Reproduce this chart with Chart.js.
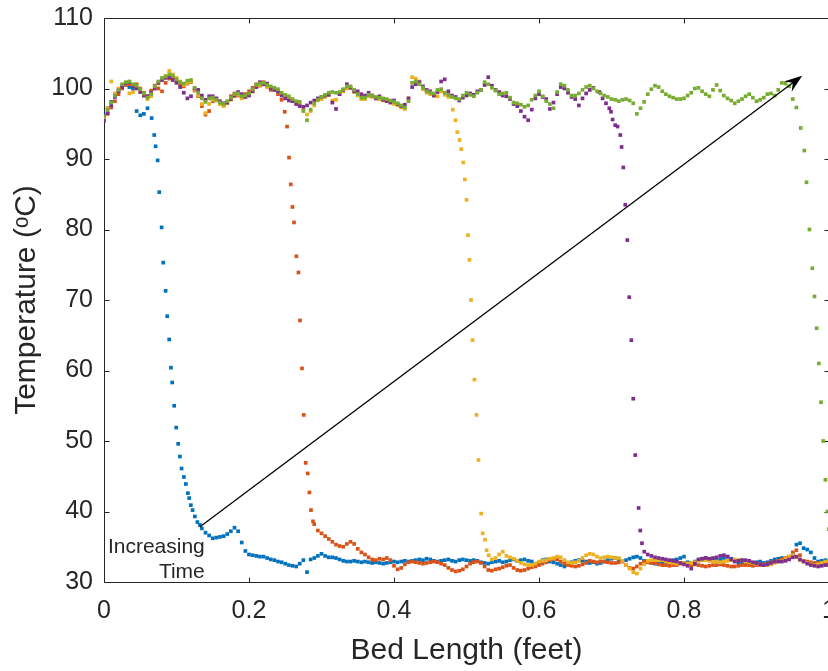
<!DOCTYPE html>
<html>
<head>
<meta charset="utf-8">
<script src="https://cdn.jsdelivr.net/npm/chart.js@4.4.1/dist/chart.umd.min.js"></script>
<style>
  html, body { margin: 0; padding: 0; background: #fff; overflow: hidden; }
  #wrap { position: relative; width: 880px; height: 671px; }
</style>
</head>
<body>
<div id="wrap"><canvas id="mycanvas"></canvas></div>
<script>
// tick positions
const xTickVals = [0, 0.2, 0.4, 0.6, 0.8, 1];
const yTickVals = [30, 40, 50, 60, 70, 80, 90, 100, 110];

// readings are on a 0.005 ft grid, the steep fronts are listed point by point
const gridStep = 0.005;

// blue - first profile
const blueHot = [96.2, 97.2, 98.1, 99.0, 99.6, 100.4, 100.5, 100.2, 99.9, 96.8, 96.2, 96.4, 97.2];
const blueDrop = [[0.0657, 95.8], [0.0693, 93.4], [0.0712, 91.8], [0.0740, 89.8], [0.0762, 85.3], [0.0795, 80.3],
  [0.0817, 75.3], [0.0850, 71.3], [0.0872, 67.7], [0.0899, 64.4], [0.0923, 60.4], [0.0941, 58.3], [0.0968, 55.0],
  [0.0996, 51.9], [0.1023, 49.6], [0.1047, 47.8], [0.1070, 46.1], [0.1102, 44.9], [0.1129, 43.9], [0.1157, 42.6],
  [0.1175, 41.9], [0.1198, 40.9], [0.1222, 40.2], [0.1253, 39.3], [0.1288, 38.5], [0.1322, 38.1]];
const blueColdStart = 0.135;
const blueCold = [37.6, 37.0, 36.6, 36.2, 36.3, 36.4, 36.5, 36.8, 37.2, 37.7,
  37.2, 35.6, 34.4, 33.9, 33.8, 33.7, 33.6, 33.6, 33.4, 33.2,
  33.1, 32.9, 32.8, 32.6, 32.4, 32.3, 32.2, 32.6, 33.1, 31.4,
  33.2, 33.4, 33.7, 34.0, 33.7, 33.5, 33.5, 33.4, 33.2, 33.0,
  32.9, 32.9, 33.0, 32.9, 32.8, 32.9, 32.8, 32.7, 32.8, 32.7,
  32.6, 32.7, 32.8, 32.9, 32.8, 32.9, 33.0, 32.9, 33.0, 33.1,
  33.2, 33.1, 33.3, 33.2, 33.0, 32.9, 33.0, 33.1, 33.2, 33.0,
  32.9, 33.1, 33.2, 33.1, 33.0, 33.1, 33.0, 32.8, 32.7, 32.6,
  32.8, 32.9, 33.0, 32.8, 32.9, 33.1, 33.2, 33.0, 33.1, 33.2,
  33.0, 32.9, 32.6, 32.7, 33.1, 33.2, 32.9, 32.8, 32.6, 32.4,
  32.2, 32.5, 32.8, 33.0, 33.1, 33.0, 32.9, 32.7, 32.8, 32.6,
  32.7, 32.9, 33.1, 33.3, 33.4, 33.2, 33.0, 33.1, 33.3, 33.5,
  33.6, 33.4, 33.0, 32.8, 32.7, 32.6, 32.7, 32.8, 32.7, 32.9,
  33.1, 33.2, 33.4, 33.6, 32.8, 32.7, 32.9, 33.1, 33.3, 33.4,
  33.2, 33.1, 33.0, 33.2, 33.4, 33.6, 33.3, 33.0, 32.8, 32.7,
  32.7, 32.6, 32.7, 32.8, 32.9, 32.7, 32.8, 33.0, 33.2, 33.3,
  33.4, 33.2, 33.4, 34.0, 35.3, 35.5, 34.8, 34.6, 34.2, 33.4,
  32.9, 33.0, 33.1, 33.0];

// orange - second profile
const orangeHot = [95.7, 96.4, 97.3, 98.2, 99.2, 100.0, 100.5, 100.6, 100.4, 100.6,
  100.0, 99.4, 98.9, 99.7, 100.4, 100.0, 99.6, 100.8, 101.4, 101.5,
  101.0, 100.6, 100.3, 100.7, 100.9, 99.7, 98.9, 97.5, 96.3, 96.8,
  98.2, 98.5, 97.9, 97.6, 98.0, 98.9, 99.3, 99.0, 98.7, 99.2,
  99.6, 100.1, 100.6, 100.4, 100.9, 100.3, 99.8, 99.9, 99.2, 98.4];
const orangeDrop = [[0.2493, 96.7], [0.2525, 94.6], [0.2552, 90.2], [0.2576, 86.4], [0.2599, 83.2], [0.2621, 81.0],
  [0.2654, 76.2], [0.2682, 73.9], [0.2704, 67.1], [0.2731, 60.3], [0.2755, 53.7], [0.2782, 46.9], [0.2810, 45.4],
  [0.2833, 42.7], [0.2855, 40.2], [0.2883, 38.6]];
const orangeColdStart = 0.29;
const orangeCold = [38.2, 37.3, 36.9, 36.5, 36.1, 35.7, 35.3, 35.1, 35.0, 35.4,
  35.7, 35.4, 34.7, 34.2, 33.9, 33.5, 33.2, 33.1, 33.3, 33.2,
  33.4, 33.1, 32.3, 31.8, 32.0, 32.5, 32.8, 32.9, 32.8, 32.7,
  32.6, 32.7, 32.8, 32.9, 32.8, 32.6, 32.4, 32.0, 31.7, 31.5,
  31.6, 31.8, 32.2, 32.6, 32.8, 32.9, 32.7, 32.2, 31.7, 31.6,
  31.8, 31.9, 32.1, 32.3, 32.4, 32.0, 31.7, 31.6, 31.7, 31.9,
  32.1, 32.2, 32.4, 32.6, 32.8, 33.1, 33.3, 33.2, 32.9, 32.6,
  32.4, 32.3, 32.2, 32.3, 32.5, 32.7, 33.0, 32.9, 32.8, 32.9,
  32.9, 32.8, 32.7, 32.7, 32.8, 32.9, 32.4, 32.0, 31.9, 32.2,
  32.6, 32.9, 32.8, 32.7, 32.7, 32.5, 32.4, 32.4, 32.3, 32.4,
  32.4, 32.6, 32.7, 32.6, 32.4, 32.5, 32.4, 32.3, 32.2, 32.3,
  32.4, 32.4, 32.5, 32.4, 32.3, 32.2, 32.2, 32.3, 32.4, 32.4,
  32.4, 32.3, 32.4, 32.4, 32.5, 32.6, 32.8, 32.9, 33.0, 33.2,
  33.4, 33.6, 34.2, 34.5, 33.8, 33.0, 32.9, 32.8, 32.7, 32.7,
  32.6, 32.7, 32.7];

// yellow - third profile
const yellowHot = [95.8, 97.2, 101.0, 99.3, 100.0, 100.2, 100.6, 99.3, 99.5, 100.1,
  99.6, 99.0, 98.5, 98.9, 100.0, 100.7, 101.3, 101.8, 102.5, 102.0,
  101.5, 101.0, 100.5, 100.8, 101.0, 99.8, 99.0, 97.8, 96.5, 97.8,
  98.4, 98.3, 97.8, 97.5, 97.9, 98.4, 98.9, 99.1, 98.6, 98.8,
  99.1, 99.6, 100.3, 100.5, 100.6, 100.2, 100.0, 99.8, 99.6, 99.2,
  98.8, 98.6, 98.3, 98.0, 97.7, 97.1, 96.3, 96.8, 97.6, 98.3,
  98.5, 98.8, 99.1, 98.3, 98.4, 99.2, 99.6, 100.0, 100.1, 99.5,
  99.0, 98.5, 98.5, 98.9, 98.8, 98.6, 98.5, 98.3, 98.2, 98.1,
  97.8, 97.6, 97.3, 97.1, 98.6, 101.6, 101.4, 101.0, 99.9, 99.4,
  99.2, 99.0, 98.9, 99.6, 99.1, 98.8];
const yellowDrop = [[0.4811, 97.0], [0.4848, 95.5], [0.4872, 93.8], [0.4904, 92.7], [0.4927, 91.4], [0.4955, 89.5],
  [0.4977, 87.1], [0.5000, 84.2], [0.5021, 79.2], [0.5041, 75.7], [0.5062, 70.0], [0.5083, 64.3], [0.5110, 58.7],
  [0.5138, 53.7], [0.5165, 47.3], [0.5202, 39.7], [0.5223, 36.9], [0.5256, 36.0], [0.5278, 34.5], [0.5306, 33.8]];
const yellowColdStart = 0.535;
const yellowCold = [33.2, 33.4, 33.9, 34.3, 33.7, 33.5, 33.3, 33.0, 32.7, 32.5,
  32.4, 32.4, 32.6, 32.9, 33.0, 33.1, 33.3, 33.4, 33.6, 33.5,
  33.1, 32.8, 32.7, 32.8, 33.0, 33.4, 33.8, 34.0, 33.9, 33.6,
  33.4, 33.5, 33.6, 33.5, 33.4, 33.4, 33.0, 32.4, 31.9, 31.4,
  31.2, 31.9, 32.5, 33.0, 33.1, 33.1, 33.1, 33.1, 32.9, 32.8,
  32.7, 32.6, 32.7, 32.7, 32.6, 32.7, 32.8, 33.0, 33.1, 33.1,
  33.0, 32.9, 32.9, 32.8, 32.9, 33.0, 33.1, 33.2, 33.1, 33.1,
  32.9, 32.8, 32.7, 32.6, 32.5, 32.4, 32.4, 32.5, 32.7, 32.9,
  33.0, 33.3, 33.6, 33.8, 33.5, 33.1, 32.9, 32.7, 32.5, 32.4,
  32.5, 32.7, 32.9, 33.0];

// purple - fourth profile
const purpleHot = [95.4, 96.5, 97.6, 98.8, 99.6, 100.2, 100.7, 100.9, 100.3, 100.0,
  99.5, 99.0, 98.9, 99.4, 100.0, 100.8, 101.2, 101.5, 101.6, 101.2,
  100.8, 100.2, 99.4, 98.6, 98.9, 100.0, 99.8, 99.0, 98.4, 98.9,
  98.9, 98.6, 98.2, 97.9, 98.0, 98.5, 99.0, 99.5, 99.2, 98.8,
  99.0, 99.6, 100.2, 100.9, 100.6, 100.7, 100.0, 99.8, 99.6, 99.0,
  98.6, 98.3, 98.2, 97.8, 97.5, 97.4, 97.6, 98.0, 98.3, 98.6,
  98.8, 99.0, 99.1, 98.0, 97.1, 99.2, 99.8, 100.6, 100.1, 99.6,
  99.6, 99.2, 99.0, 99.4, 99.0, 98.6, 98.9, 98.4, 98.2, 98.0,
  98.3, 97.8, 97.5, 97.7, 98.6, 100.2, 100.6, 100.9, 100.3, 99.8,
  99.6, 99.0, 99.5, 101.0, 101.3, 99.6, 99.0, 98.8, 98.3, 98.7,
  99.0, 99.3, 99.1, 99.6, 99.8, 100.5, 101.6, 100.4, 99.8, 99.5,
  99.0, 98.9, 98.5, 97.8, 97.5, 96.8, 96.0, 95.5, 97.0, 98.6,
  99.2, 98.8, 98.5, 97.1, 98.0, 99.2, 100.2, 100.0, 99.4, 98.8,
  98.5, 97.6, 98.6, 99.3, 99.8, 100.1];
const purpleDrop = [[0.6832, 99.5], [0.6877, 98.6], [0.6924, 97.9], [0.6970, 97.2], [0.6993, 96.7], [0.7015, 95.6],
  [0.7052, 94.8], [0.7084, 94.6], [0.7121, 93.4], [0.7139, 91.7], [0.7163, 88.8], [0.7190, 83.5], [0.7218, 78.5],
  [0.7245, 70.4], [0.7273, 64.3], [0.7300, 56.0], [0.7328, 48.0], [0.7374, 40.5], [0.7397, 37.3], [0.7420, 35.5],
  [0.7452, 34.3]];
const purpleColdStart = 0.75;
const purpleCold = [33.9, 33.7, 33.5, 33.4, 33.3, 33.2, 33.1, 33.0, 32.9, 32.7,
  32.5, 32.3, 31.9, 32.6, 33.2, 33.3, 33.4, 33.3, 33.4, 33.5,
  33.7, 33.8, 33.6, 33.2, 32.9, 33.0, 33.1, 33.1, 33.0, 32.8,
  32.7, 32.5, 32.4, 32.5, 32.7, 32.9, 32.9, 32.9, 33.0, 33.2,
  33.5, 33.6, 33.2, 32.9, 32.6, 32.4, 32.3, 32.2, 32.3, 32.4,
  32.4];

// green - fifth profile
const greenHot = [96.0, 97.0, 98.0, 99.0, 99.8, 100.6, 100.9, 101.0, 100.6, 100.4,
  99.9, 99.3, 98.7, 99.2, 100.3, 101.0, 101.5, 101.7, 102.0, 101.8,
  101.3, 100.9, 100.7, 101.1, 101.2, 100.1, 99.4, 98.6, 98.1, 98.6,
  98.7, 98.4, 98.0, 97.8, 98.2, 98.7, 99.2, 99.3, 98.9, 99.0,
  99.3, 99.9, 100.5, 100.7, 100.8, 100.5, 100.3, 100.1, 99.9, 99.4,
  99.1, 98.9, 98.5, 98.2, 98.1, 96.8, 95.5, 97.0, 97.9, 98.4,
  98.8, 99.1, 99.4, 99.5, 99.4, 99.5, 99.9, 100.3, 100.3, 99.8,
  99.2, 98.7, 98.7, 99.1, 99.0, 98.8, 98.7, 98.6, 98.5, 98.3,
  98.1, 97.9, 97.6, 97.3, 98.2, 100.8, 101.0, 100.6, 100.1, 99.6,
  99.4, 99.3, 99.8, 99.9, 99.4, 99.1, 98.8, 98.6, 98.5, 99.0,
  99.4, 99.1, 98.9, 99.4, 99.8, 100.9, 100.6, 100.1, 99.7, 99.2,
  99.3, 99.4, 98.7, 98.0, 97.9, 97.7, 97.4, 97.6, 98.4, 99.0,
  99.6, 98.9, 98.2, 97.8, 97.2, 99.5, 100.6, 100.4, 99.8, 99.0,
  99.0, 99.3, 99.8, 100.2, 100.4, 100.0, 99.6, 99.3, 99.0, 98.8,
  98.5, 98.4, 98.2, 98.4, 98.5, 98.3, 97.9, 96.4, 97.2, 98.1,
  99.2, 99.9, 100.4, 100.2, 99.6, 99.2, 98.9, 98.7, 98.5, 98.5,
  98.6, 99.0, 99.4, 100.0, 100.1, 99.6, 99.2, 98.9, 99.8, 100.5,
  99.7, 99.0, 98.6, 98.3, 97.9, 98.2, 98.5, 98.9, 99.2, 98.7,
  98.2, 98.4, 98.7, 99.2, 99.3, 99.0, 99.8, 100.8, 100.7, 100.3,
  98.5, 97.3];
const greenDrop = [[0.961, 94.4], [0.966, 91.2], [0.969, 86.7], [0.973, 80.0], [0.977, 74.5], [0.980, 70.5],
  [0.983, 66.0], [0.986, 61.0], [0.989, 55.5], [0.992, 50.0], [0.995, 44.5], [0.998, 40.0], [1.0, 37.5]];

// annotation
const arrowFrom = [0.132, 37.8];
const arrowTo = [0.963, 101.8];
const noteLines = ['Increasing', 'Time'];
const noteAnchor = [0.139, 30.6];

const colores = {
  blue: '#0072BD',
  orange: '#D95319',
  yellow: '#EDB120',
  purple: '#7E2F8E',
  green: '#77AC30'
};
const axisColor = '#262626';
const fontFam = '"Liberation Sans", Arial, Helvetica, sans-serif';

function onGrid(startX, temps) {
  return temps.map(function (t, i) {
    return { x: +(startX + i * gridStep).toFixed(4), y: t };
  });
}
function pairs(list) {
  return list.map(function (p) { return { x: p[0], y: p[1] }; });
}

function serie(label, color, puntos, orden) {
  return {
    label: label,
    data: puntos,
    showLine: false,
    pointStyle: 'rect',
    pointRadius: 2.6,
    pointHoverRadius: 2.6,
    pointBorderWidth: 0,
    pointBackgroundColor: color,
    pointBorderColor: color,
    order: orden
  };
}

var datasets = [
  serie('t1', colores.blue, onGrid(0, blueHot).concat(pairs(blueDrop), onGrid(blueColdStart, blueCold)), 5),
  serie('t2', colores.orange, onGrid(0, orangeHot).concat(pairs(orangeDrop), onGrid(orangeColdStart, orangeCold)), 4),
  serie('t3', colores.yellow, onGrid(0, yellowHot).concat(pairs(yellowDrop), onGrid(yellowColdStart, yellowCold)), 3),
  serie('t4', colores.purple, onGrid(0, purpleHot).concat(pairs(purpleDrop), onGrid(purpleColdStart, purpleCold)), 2),
  serie('t5', colores.green, onGrid(0, greenHot).concat(pairs(greenDrop)), 1)
];

// box with inward ticks, like the matlab axes
const boxPlugin = {
  id: 'boxPlugin',
  beforeDatasetsDraw: function (chart) {
    const ctx = chart.ctx;
    const a = chart.chartArea;
    const xs = chart.scales.x;
    const ys = chart.scales.y;
    const L = Math.round(a.left) + 0.5, R = Math.round(a.right) + 0.5;
    const T = Math.round(a.top) + 0.5, B = Math.round(a.bottom) + 0.5;
    ctx.save();
    ctx.strokeStyle = axisColor;
    ctx.lineWidth = 1;
    ctx.beginPath();
    ctx.rect(L, T, R - L, B - T);
    xTickVals.forEach(function (v) {
      const px = Math.round(xs.getPixelForValue(v)) + 0.5;
      ctx.moveTo(px, B); ctx.lineTo(px, B - 5);
      ctx.moveTo(px, T); ctx.lineTo(px, T + 5);
    });
    yTickVals.forEach(function (v) {
      const py = Math.round(ys.getPixelForValue(v)) + 0.5;
      ctx.moveTo(L, py); ctx.lineTo(L + 5, py);
      ctx.moveTo(R, py); ctx.lineTo(R - 5, py);
    });
    ctx.stroke();
    ctx.restore();
  },
  afterDatasetsDraw: function (chart) {
    const ctx = chart.ctx;
    const xs = chart.scales.x;
    const ys = chart.scales.y;
    const x0 = xs.getPixelForValue(arrowFrom[0]), y0 = ys.getPixelForValue(arrowFrom[1]);
    const x1 = xs.getPixelForValue(arrowTo[0]), y1 = ys.getPixelForValue(arrowTo[1]);
    const len = Math.hypot(x1 - x0, y1 - y0);
    const ux = (x1 - x0) / len, uy = (y1 - y0) / len;
    const nx = -uy, ny = ux;
    const hl = 18, hw = 6.5;
    ctx.save();
    ctx.strokeStyle = '#000';
    ctx.fillStyle = '#000';
    ctx.lineWidth = 1.3;
    ctx.beginPath();
    ctx.moveTo(x0, y0);
    ctx.lineTo(x1 - ux * hl * 0.6, y1 - uy * hl * 0.6);
    ctx.stroke();
    ctx.beginPath();
    ctx.moveTo(x1, y1);
    ctx.lineTo(x1 - ux * hl + nx * hw, y1 - uy * hl + ny * hw);
    ctx.lineTo(x1 - ux * hl * 0.65, y1 - uy * hl * 0.65);
    ctx.lineTo(x1 - ux * hl - nx * hw, y1 - uy * hl - ny * hw);
    ctx.closePath();
    ctx.fill();

    ctx.fillStyle = '#262626';
    ctx.font = '21px ' + fontFam;
    ctx.textAlign = 'right';
    ctx.textBaseline = 'alphabetic';
    const tx = xs.getPixelForValue(noteAnchor[0]);
    const ty = ys.getPixelForValue(noteAnchor[1]);
    for (let i = 0; i < noteLines.length; i++) {
      ctx.fillText(noteLines[i], tx, ty - (noteLines.length - 1 - i) * 25);
    }
    ctx.restore();
  }
};

const config = {
  type: 'scatter',
  data: { datasets: datasets },
  plugins: [boxPlugin],
  options: {
    responsive: true,
    maintainAspectRatio: false,
    animation: false,
    devicePixelRatio: 1,
    layout: { padding: { top: 18, right: 51, left: 0, bottom: 0 } },
    plugins: {
      legend: { display: false },
      tooltip: { enabled: false }
    },
    scales: {
      x: {
        type: 'linear',
        min: 0,
        max: 1,
        afterBuildTicks: function (s) { s.ticks = xTickVals.map(function (v) { return { value: v }; }); },
        afterFit: function (s) { s.height = 89; },
        grid: { display: false, drawTicks: false },
        border: { display: false },
        ticks: {
          autoSkip: false,
          maxRotation: 0,
          padding: 14,
          color: axisColor,
          font: { family: fontFam, size: 25 },
          callback: function (v) { return String(v); }
        },
        title: {
          display: true,
          text: 'Bed Length (feet)',
          color: axisColor,
          font: { family: fontFam, size: 30 },
          padding: { top: 0, bottom: 2 }
        }
      },
      y: {
        type: 'linear',
        min: 30,
        max: 110,
        afterBuildTicks: function (s) { s.ticks = yTickVals.map(function (v) { return { value: v }; }); },
        afterFit: function (s) { s.width = 104; s.paddingTop = 0; s.paddingBottom = 0; },
        grid: { display: false, drawTicks: false },
        border: { display: false },
        ticks: {
          autoSkip: false,
          padding: 11,
          color: axisColor,
          font: { family: fontFam, size: 25 },
          callback: function (v) { return String(v); }
        },
        title: {
          display: true,
          text: 'Temperature (ᵒC)',
          color: axisColor,
          font: { family: fontFam, size: 30 },
          padding: { top: 9, bottom: 0 }
        }
      }
    }
  }
};

var myChart = new Chart(document.getElementById('mycanvas'), config);
</script>
</body>
</html>
